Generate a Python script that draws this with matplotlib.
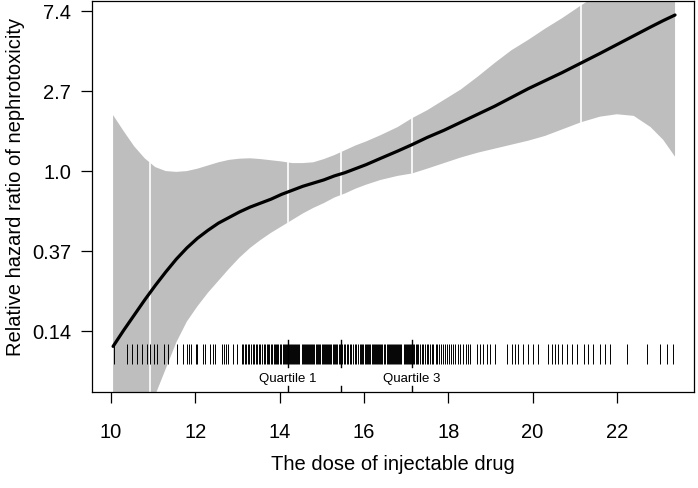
import numpy as np
import matplotlib
matplotlib.use('Agg')
import matplotlib.pyplot as plt
import matplotlib.transforms as mtransforms

plt.rcParams['font.family'] = ['Liberation Sans', 'DejaVu Sans']

# ---------------------------------------------------------------
# DATA (log relative hazard)
# ---------------------------------------------------------------
dose = [10.05, 10.3, 10.55, 10.8, 11.05, 11.3, 11.55, 11.8, 12.05, 12.3,
        12.55, 12.8, 13.05, 13.3, 13.55, 13.8, 14.05, 14.3, 14.55, 14.8,
        15.05, 15.3, 15.55, 15.8, 16.05, 16.4, 16.8, 17.14, 17.5, 17.9,
        18.3, 18.7, 19.1, 19.5, 19.9, 20.3, 20.7, 21.15, 21.6, 22.0,
        22.4, 22.8, 23.1, 23.38]
log_hr = [-2.19, -1.99, -1.80, -1.61, -1.43, -1.26, -1.10, -0.96, -0.84, -0.74,
          -0.65, -0.58, -0.51, -0.45, -0.40, -0.35, -0.29, -0.24, -0.19, -0.15,
          -0.11, -0.06, -0.02, 0.03, 0.08, 0.16, 0.25, 0.33, 0.42, 0.51,
          0.61, 0.71, 0.81, 0.92, 1.03, 1.13, 1.23, 1.35, 1.47, 1.58,
          1.69, 1.80, 1.88, 1.95]
log_upper = [0.70, 0.50, 0.31, 0.16, 0.05, 0.00, -0.01, 0.00, 0.03, 0.07,
             0.11, 0.14, 0.155, 0.16, 0.15, 0.135, 0.12, 0.10, 0.10, 0.11,
             0.15, 0.20, 0.26, 0.32, 0.37, 0.45, 0.55, 0.66, 0.76, 0.89,
             1.02, 1.18, 1.35, 1.51, 1.64, 1.78, 1.91, 2.07, 2.22, 2.36,
             2.50, 2.64, 2.75, 2.85]
log_lower = [-4.30, -3.90, -3.52, -3.15, -2.80, -2.47, -2.14, -1.88, -1.69, -1.52,
             -1.37, -1.22, -1.08, -0.96, -0.86, -0.77, -0.69, -0.61, -0.53, -0.46,
             -0.40, -0.33, -0.28, -0.22, -0.17, -0.11, -0.06, -0.03, 0.03, 0.10,
             0.17, 0.23, 0.28, 0.33, 0.38, 0.44, 0.52, 0.61, 0.68, 0.71,
             0.69, 0.55, 0.39, 0.18]

# percentiles (5, 25, 50, 75, 95) marked with white lines in the band
pct_dose = [10.93, 14.20, 15.46, 17.14, 21.15]
quart_dose = [14.20, 15.46, 17.14]
quart_labels = ['Quartile 1', '', 'Quartile 3']

# individual observations (rug)
rug_dose = [10.06, 10.39, 10.49, 10.61, 10.73, 10.85, 10.93, 11.02, 11.08, 11.26,
            11.36, 11.56, 11.70, 11.80, 11.86, 11.91, 12.02, 12.05, 12.19, 12.23,
            12.36, 12.41, 12.47, 12.63, 12.67, 12.74, 12.78, 12.90, 12.98,
            13.10, 13.14, 13.17, 13.21, 13.25, 13.28, 13.31, 13.36, 13.40, 13.43,
            13.47, 13.50, 13.53, 13.58, 13.62, 13.65, 13.69, 13.72, 13.76, 13.80,
            13.83, 13.86, 13.89,
            13.92, 13.945, 13.97, 14.02, 14.045, 14.07, 14.095, 14.12, 14.145,
            14.17, 14.195, 14.22, 14.245, 14.27, 14.295, 14.32, 14.345, 14.37, 14.395,
            14.42, 14.445, 14.47, 14.52, 14.545, 14.57, 14.595, 14.62, 14.645,
            14.67, 14.695, 14.72, 14.745, 14.77, 14.795, 14.82, 14.87, 14.895,
            14.92, 14.945, 14.97, 14.995, 15.02, 15.045, 15.07, 15.095, 15.12, 15.145,
            15.17, 15.195, 15.22, 15.27, 15.295, 15.32, 15.345, 15.37, 15.40,
            15.43, 15.46, 15.49, 15.52, 15.55, 15.59, 15.63, 15.66, 15.70, 15.75,
            15.79, 15.82, 15.86, 15.90, 15.93, 15.96, 15.99, 16.015, 16.04, 16.065,
            16.09, 16.115, 16.14, 16.19, 16.215, 16.24, 16.265, 16.29, 16.315,
            16.34, 16.365, 16.39, 16.415, 16.44, 16.465, 16.49, 16.54, 16.565,
            16.59, 16.615, 16.64, 16.665, 16.69, 16.715, 16.74, 16.765, 16.79, 16.815,
            16.84, 16.865, 16.89, 16.94, 16.965, 16.99, 17.015, 17.04, 17.065,
            17.09, 17.115, 17.14, 17.165, 17.19, 17.24, 17.265, 17.29,
            17.33, 17.37, 17.41, 17.45, 17.49, 17.53, 17.57, 17.61, 17.65, 17.70,
            17.74, 17.78, 17.83, 17.88, 17.92, 17.97, 18.02, 18.07, 18.12, 18.17,
            18.23, 18.29, 18.35, 18.41, 18.47, 18.52,
            18.68, 18.75, 18.83, 18.91, 18.99, 19.11, 19.39, 19.51, 19.58, 19.66,
            19.78, 19.90, 20.02, 20.14, 20.37, 20.45, 20.53, 20.61, 20.69, 20.81,
            20.93, 21.05, 21.21, 21.32, 21.44, 21.60, 21.72, 21.84, 22.23, 22.71,
            23.02, 23.18, 23.34]

xticks = [10, 12, 14, 16, 18, 20, 22]
yticks = [-2, -1, 0, 1, 2]
ytick_labels = ['0.14', '0.37', '1.0', '2.7', '7.4']

# ---------------------------------------------------------------
# PLOT
# ---------------------------------------------------------------
fig = plt.figure(figsize=(6.98, 4.88), dpi=100)
ax = fig.add_axes([92/698, 1 - 392/488, 602/698, 391/488])

ax.fill_between(dose, log_lower, log_upper, color='#BEBEBE', lw=0)
for xp in pct_dose:
    lo = np.interp(xp, dose, log_lower)
    hi = np.interp(xp, dose, log_upper)
    ax.plot([xp, xp], [lo, hi], color='white', lw=1.2)
ax.plot(dose, log_hr, color='black', lw=2.3, solid_capstyle='round',
        solid_joinstyle='round')

trans = mtransforms.blended_transform_factory(ax.transData, ax.transAxes)
ax.vlines(rug_dose, 0.0716, 0.1228, transform=trans, color='black', lw=0.7)
for xq, lab in zip(quart_dose, quart_labels):
    ax.plot([xq, xq], [0.064, 0.132], transform=trans, color='black', lw=1)
    ax.plot([xq, xq], [0.0, 0.016], transform=trans, color='black', lw=1)
    if lab:
        ax.text(xq, 0.033, lab, transform=trans, ha='center', va='center',
                fontsize=9.5)

ax.set_xlim(9.55, 23.83)
ax.set_ylim(-2.76, 2.125)
ax.set_xticks(xticks)
ax.set_yticks(yticks)
ax.set_yticklabels(ytick_labels)
ax.tick_params(axis='both', direction='out', length=8, width=0.9,
               labelsize=14.5)
ax.tick_params(axis='x', pad=14)
ax.tick_params(axis='y', pad=7)
for s in ax.spines.values():
    s.set_linewidth(0.9)

ax.set_xlabel('The dose of injectable drug', fontsize=14.5, labelpad=10)
ax.set_ylabel('Relative hazard ratio of nephrotoxicity', fontsize=14.5)
ax.yaxis.set_label_coords(-0.112, 0.524)

fig.savefig('out.png', dpi=100)
